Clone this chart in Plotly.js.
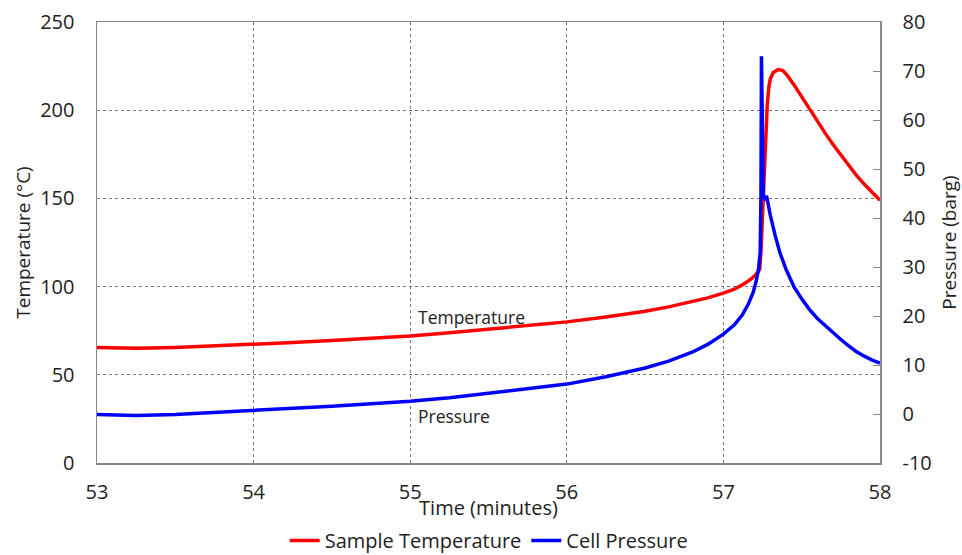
<!DOCTYPE html>
<html>
<head>
<meta charset="utf-8">
<script src="https://cdn.plot.ly/plotly-3.0.1.min.js"></script>
<style>html,body{margin:0;padding:0;background:#fff;}#chart{width:962px;height:555px;}</style>
</head>
<body>
<div id="chart"></div>
<script>
// Sample temperature (°C) vs time (minutes)
const tempTime = [53.0, 53.25, 53.5, 53.75, 54.0, 54.25, 54.5, 54.75, 55.0, 55.25, 55.5, 55.75, 56.0, 56.25, 56.5, 56.65, 56.8, 56.9, 57.0, 57.07, 57.13, 57.18, 57.22, 57.232, 57.24, 57.25, 57.26, 57.27, 57.28, 57.29, 57.30, 57.32, 57.35, 57.38, 57.41, 57.45, 57.5, 57.55, 57.6, 57.65, 57.7, 57.75, 57.8, 57.85, 57.9, 57.95, 58.0];
const tempValues = [65.5, 65.0, 65.5, 66.3, 67.3, 68.3, 69.4, 70.6, 72.0, 73.8, 75.8, 77.8, 80.0, 82.8, 86.0, 88.5, 91.5, 93.6, 96.3, 98.5, 101.5, 104.5, 108, 110, 120, 140, 163, 185, 203, 213, 218, 221.5, 223, 222.5, 219.5, 214.5, 207.5, 200.5, 194, 187, 180.5, 174.5, 168.5, 163, 158, 153.5, 149];

// Cell pressure (barg) vs time (minutes)
const presTime = [53.0, 53.25, 53.5, 53.75, 54.0, 54.25, 54.5, 54.75, 55.0, 55.25, 55.5, 55.75, 56.0, 56.25, 56.5, 56.65, 56.8, 56.9, 57.0, 57.07, 57.12, 57.16, 57.19, 57.21, 57.225, 57.235, 57.24, 57.243, 57.246, 57.249, 57.255, 57.265, 57.275, 57.285, 57.3, 57.33, 57.36, 57.4, 57.45, 57.5, 57.55, 57.6, 57.65, 57.7, 57.75, 57.8, 57.85, 57.9, 57.95, 58.0];
const presValues = [-0.1, -0.3, -0.1, 0.3, 0.7, 1.1, 1.6, 2.1, 2.6, 3.3, 4.2, 5.1, 6.1, 7.6, 9.4, 10.8, 12.6, 14.2, 16.3, 18.2, 20.2, 22.5, 24.8, 27.2, 29.8, 33, 45, 73, 65, 50, 44.5, 44, 44.5, 43, 40.5, 36.5, 33, 29.5, 26, 23.5, 21.3, 19.5, 18, 16.6, 15.2, 13.9, 12.7, 11.8, 11.0, 10.4];

const xTicks = [53, 54, 55, 56, 57, 58];
const yTicks = [0, 50, 100, 150, 200, 250];
const y2Ticks = [-10, 0, 10, 20, 30, 40, 50, 60, 70, 80];

const fontFam = 'Open Sans, Noto Sans, Liberation Sans, sans-serif';

const traces = [
  {x: tempTime, y: tempValues, type: 'scatter', mode: 'lines', name: 'Sample Temperature',
   line: {color: '#ff0000', width: 3.5}, yaxis: 'y'},
  {x: presTime, y: presValues, type: 'scatter', mode: 'lines', name: 'Cell Pressure',
   line: {color: '#0000ff', width: 3.5}, yaxis: 'y2'}
];

const layout = {
  width: 962, height: 555,
  margin: {l: 97, r: 82, t: 22, b: 92},
  paper_bgcolor: '#fff', plot_bgcolor: '#fff',
  font: {family: fontFam, color: '#222', size: 20},
  showlegend: true,
  legend: {orientation: 'h', xref: 'container', yref: 'container', x: 0.508, xanchor: 'center',
           y: 0.026, yanchor: 'middle',
           font: {size: 20, color: '#222'}, itemwidth: 30, tracegroupgap: 0},
  xaxis: {range: [53, 58], tickvals: xTicks, ticktext: xTicks.map(String),
          showgrid: true, gridcolor: '#777', griddash: 'dot', gridwidth: 1,
          showline: true, linecolor: '#888', linewidth: 1.5, mirror: true,
          ticks: 'outside', ticklen: 10, tickcolor: 'rgba(0,0,0,0)', zeroline: false,
          tickfont: {size: 20},
          title: {text: 'Time (minutes)', font: {size: 20}, standoff: 14}},
  yaxis: {range: [0, 250], tickvals: yTicks, ticktext: yTicks.map(String),
          showgrid: true, gridcolor: '#777', griddash: 'dot', gridwidth: 1,
          showline: true, linecolor: '#888', linewidth: 1.5,
          ticks: '', zeroline: false, tickfont: {size: 20}, ticklabelstandoff: 17,
          title: {text: 'Temperature (°C)', font: {size: 19}, standoff: 4}},
  yaxis2: {range: [-10, 80], tickvals: y2Ticks, ticktext: y2Ticks.map(String),
           overlaying: 'y', side: 'right', showgrid: false,
           showline: true, linecolor: '#888', linewidth: 1.5,
           ticks: 'inside', ticklen: 7, tickcolor: '#888', zeroline: false,
           tickfont: {size: 20}, ticklabelstandoff: 17,
           title: {text: 'Pressure (barg)', font: {size: 19}, standoff: 16}},
  annotations: [
    {x: 55.04, y: 82.8, xref: 'x', yref: 'y', text: 'Temperature', showarrow: false,
     xanchor: 'left', yanchor: 'middle', font: {size: 17.5, color: '#222'}},
    {x: 55.04, y: 26.6, xref: 'x', yref: 'y', text: 'Pressure', showarrow: false,
     xanchor: 'left', yanchor: 'middle', font: {size: 17.5, color: '#222'}}
  ]
};

Plotly.newPlot('chart', traces, layout, {displayModeBar: false, staticPlot: true});
</script>
</body>
</html>
